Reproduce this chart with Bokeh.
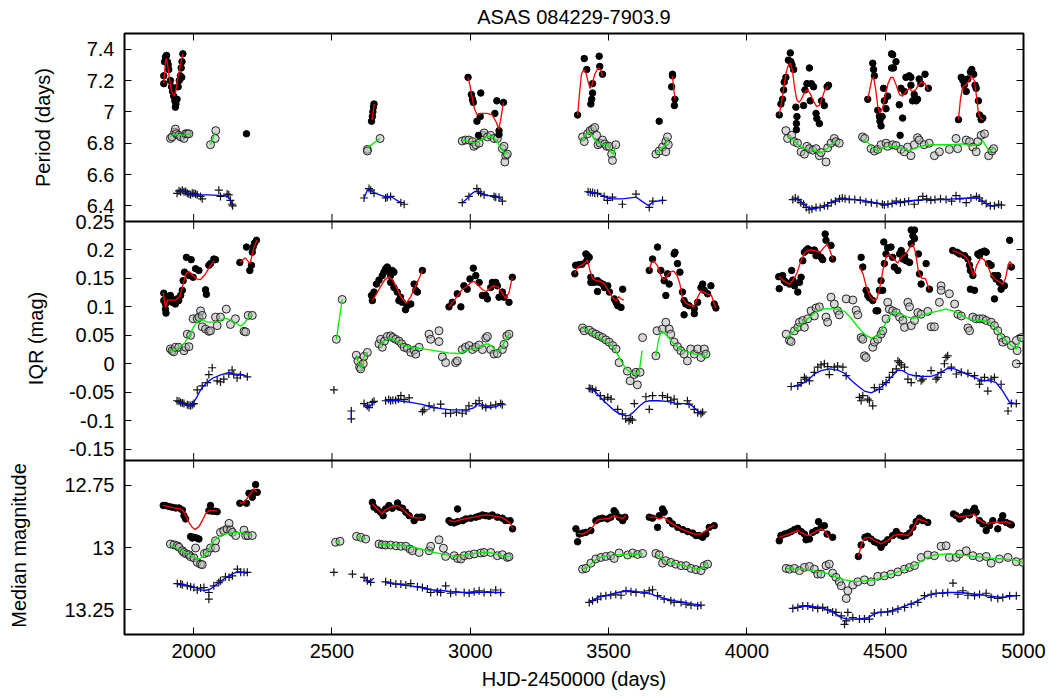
import math
from bokeh.plotting import figure
from bokeh.layouts import row
from bokeh.models import Range1d, LinearAxis, FixedTicker, Span, CustomJSTickFormatter
from bokeh.core.properties import value
from bokeh.embed import file_html
from bokeh.resources import INLINE

TITLE = "ASAS 084229-7903.9"
X_LABEL = "HJD-2450000 (days)"
X_TICKS = [2000, 2500, 3000, 3500, 4000, 4500, 5000]
X_LIMITS = (1750, 5000)

PERIOD_LABEL = "Period (days)"
PERIOD_LIMITS = (6.3, 7.5)
PERIOD_TICKS = [6.4, 6.6, 6.8, 7.0, 7.2, 7.4]
PERIOD_TICK_LABELS = ["6.4", "6.6", "6.8", "7", "7.2", "7.4"]

IQR_LABEL = "IQR (mag)"
IQR_LIMITS = (-0.17, 0.25)
IQR_TICKS = [-0.15, -0.1, -0.05, 0.0, 0.05, 0.1, 0.15, 0.2, 0.25]
IQR_TICK_LABELS = ["-0.15", "-0.1", "-0.05", "0", "0.05", "0.1", "0.15", "0.2", "0.25"]

MAG_LABEL = "Median magnitude"
MAG_LIMITS = (12.65, 13.35)
MAG_TICKS = [12.75, 13.0, 13.25]
MAG_TICK_LABELS = ["12.75", "13", "13.25"]

# ---------------- Period panel ----------------
PERIOD_RED_PTS = [
    (1892,7.18),(1892,7.23),(1895,7.32),(1898,7.35),(1902,7.36),(1905,7.32),(1908,7.30),(1910,7.27),(1916,7.20),(1920,7.16),
    (1924,7.13),(1928,7.10),(1932,7.07),(1936,7.05),(1934,7.03),(1940,7.08),(1944,7.16),(1948,7.20),(1952,7.23),(1955,7.28),
    (1957,7.22),(1958,7.32),(1961,7.37),(2191,6.86),
    (2643,6.94),(2646,6.97),(2648,7.00),(2650,7.03),(2652,7.05),
    (2992,7.22),(3004,7.11),(3008,7.08),(3011,7.06),(3024,6.94),(3036,6.97),(3038,7.12),(3089,6.99),(3096,7.07),(3104,6.88),
    (3120,7.06),(3030,6.85),(3104,6.855),
    (3388,6.98),(3412,7.34),(3421,7.27),(3442,7.18),(3442,7.12),(3439,7.08),(3436,7.05),(3466,7.355),(3468,7.29),(3478,7.24),
    (3731,7.24),(3731,7.23),(3728,7.16),(3740,7.08),(3738,7.04),(3683,6.94),
    (4117,6.98),(4123,7.05),(4129,7.08),(4133,7.14),(4135,7.19),(4141,7.22),(4150,7.33),(4157,7.376),(4159,7.32),(4163,7.30),
    (4169,7.27),(4177,7.03),(4181,6.97),(4179,6.925),(4179,6.886),(4205,7.04),(4210,7.14),(4217,7.18),(4226,7.28),(4229,7.07),
    (4233,7.18),(4241,7.16),(4250,6.99),(4253,6.957),(4262,6.925),(4270,7.07),(4280,7.04),(4290,7.16),(4295,7.17),(4554,6.85),
    (4437,7.08),(4455,7.31),(4458,7.27),(4461,7.23),(4473,7.01),(4479,6.97),(4481,6.94),(4485,6.91),(4489,6.97),(4494,7.15),
    (4497,7.07),(4503,7.02),(4509,7.10),(4523,7.37),(4527,7.365),(4523,7.28),(4530,7.28),(4539,7.32),(4551,7.045),(4563,6.96),
    (4557,7.15),(4569,7.13),(4575,7.22),(4587,7.23),(4593,7.22),(4593,7.17),(4599,7.07),(4605,7.11),(4612,7.07),(4617,7.08),
    (4623,7.21),(4629,7.18),(4644,7.24),(4656,7.15),
    (4765,6.95),(4775,7.22),(4781,7.20),(4786,7.17),(4793,7.13),(4799,7.21),(4808,7.255),(4813,7.27),(4820,7.24),(4825,7.17),
    (4829,7.15),(4837,7.07),(4841,6.98),(4847,6.95),(4853,6.96),
]
PERIOD_RED_CURVES = [
    [(1892,7.18),(1897,7.30),(1901,7.34),(1906,7.30),(1912,7.22),(1918,7.15),(1925,7.11),(1930,7.10),(1936,7.14),(1942,7.21),(1950,7.28),(1961,7.37)],
    [(2645,6.95),(2649,7.00),(2653,7.05)],
    [(2992,7.22),(3000,7.16),(3008,7.08),(3015,7.02),(3025,6.98),(3040,6.99),(3060,6.99),(3080,6.98),(3095,6.93),(3103,6.89),(3110,6.95),(3120,7.06)],
    [(3388,6.98),(3395,7.12),(3402,7.24),(3410,7.27),(3418,7.25),(3425,7.20),(3433,7.15),(3440,7.17),(3450,7.24),(3462,7.28),(3470,7.27),(3478,7.23)],
    [(3731,7.23),(3735,7.16),(3740,7.08)],
    [(4117,6.98),(4125,7.06),(4133,7.15),(4142,7.25),(4150,7.30),(4158,7.31),(4165,7.26),(4172,7.16),(4180,7.08),(4188,7.06),(4197,7.08),
     (4207,7.12),(4218,7.14),(4228,7.12),(4240,7.07),(4252,7.035),(4262,7.04),(4272,7.09),(4282,7.14),(4292,7.16)],
    [(4437,7.08),(4445,7.15),(4452,7.21),(4458,7.22),(4465,7.15),(4473,7.04),(4480,6.99),(4490,7.02),(4500,7.10),(4510,7.18),(4520,7.22),
     (4528,7.22),(4540,7.17),(4552,7.11),(4563,7.10),(4575,7.13),(4587,7.15),(4598,7.13),(4610,7.14),(4620,7.17),(4632,7.19),(4644,7.18),(4656,7.14)],
    [(4765,6.95),(4772,7.08),(4780,7.16),(4790,7.17),(4800,7.19),(4812,7.23),(4822,7.20),(4830,7.10),(4837,6.99),(4845,6.96),(4855,6.95)],
]
PERIOD_GREEN_PTS = [
    (1916,6.83),(1922,6.84),(1931,6.87),(1934,6.89),(1938,6.86),(1946,6.85),(1953,6.84),(1965,6.83),(1971,6.86),(1977,6.86),(1983,6.86),
    (2061,6.79),(2078,6.83),(2080,6.88),
    (2628,6.76),(2628,6.75),(2674,6.83),
    (2971,6.814),(2983,6.82),(2995,6.82),(3008,6.81),(3013,6.78),(3020,6.79),(3032,6.80),(3044,6.85),(3050,6.865),(3062,6.84),
    (3074,6.85),(3086,6.83),(3098,6.83),(3116,6.765),(3122,6.78),(3128,6.72),(3134,6.73),(3125,6.68),
    (3406,6.84),(3412,6.81),(3424,6.86),(3433,6.88),(3442,6.89),(3450,6.90),(3457,6.85),(3462,6.79),(3469,6.80),(3478,6.82),
    (3486,6.795),(3493,6.78),(3502,6.78),(3511,6.73),(3514,6.69),(3526,6.79),
    (3671,6.73),(3683,6.75),(3695,6.775),(3707,6.81),(3713,6.84),(3707,6.745),(3716,6.79),
    (4141,6.88),(4147,6.83),(4162,6.85),(4171,6.81),(4183,6.80),(4196,6.745),(4208,6.73),(4217,6.78),(4226,6.765),(4238,6.755),
    (4250,6.765),(4262,6.72),(4268,6.74),(4286,6.68),(4292,6.77),(4304,6.80),(4316,6.83),(4322,6.81),(4334,6.80),
    (4418,6.84),(4426,6.83),(4449,6.765),(4461,6.75),(4473,6.76),(4485,6.79),(4503,6.80),(4509,6.78),(4527,6.79),(4539,6.785),
    (4557,6.76),(4569,6.745),(4581,6.775),(4593,6.72),(4605,6.79),(4617,6.835),(4623,6.82),(4641,6.79),(4659,6.80),(4678,6.72),
    (4696,6.745),(4732,6.76),(4756,6.83),(4762,6.765),(4793,6.82),(4805,6.81),(4817,6.775),(4829,6.745),(4835,6.81),(4847,6.85),
    (4859,6.86),(4874,6.72),(4886,6.75),(4892,6.765),
]
PERIOD_GREEN_CURVES = [
    [(1916,6.84),(1925,6.855),(1940,6.855),(1955,6.85),(1970,6.855),(1983,6.86)],
    [(2061,6.79),(2078,6.87)],
    [(2628,6.77),(2673,6.83)],
    [(2971,6.82),(2985,6.815),(3000,6.81),(3015,6.80),(3030,6.81),(3050,6.835),(3070,6.845),(3085,6.835),(3100,6.80),(3115,6.76),(3125,6.73),(3135,6.745)],
    [(3400,6.81),(3410,6.84),(3420,6.86),(3430,6.87),(3440,6.85),(3450,6.82),(3460,6.80),(3470,6.80),(3480,6.79),(3490,6.795),(3500,6.78),
     (3510,6.74),(3518,6.73),(3526,6.79)],
    [(3671,6.735),(3690,6.76),(3705,6.79),(3715,6.83)],
    [(4145,6.84),(4160,6.83),(4180,6.80),(4200,6.77),(4220,6.76),(4240,6.755),(4260,6.74),(4275,6.745),(4290,6.765),(4310,6.80),(4325,6.81)],
    [(4418,6.82),(4435,6.81),(4455,6.77),(4473,6.75),(4490,6.77),(4510,6.78),(4540,6.78),(4565,6.765),(4587,6.75),(4610,6.77),(4640,6.785),
     (4680,6.79),(4730,6.79),(4780,6.795),(4810,6.785),(4835,6.79),(4853,6.815),(4865,6.78),(4877,6.745),(4892,6.77)],
]
PERIOD_BLUE_PTS = [
    (1940,6.48),(1947,6.495),(1953,6.49),(1959,6.50),(1965,6.49),(1971,6.492),(1977,6.48),(1983,6.475),(1989,6.47),(1995,6.48),
    (2001,6.48),(2007,6.475),(2013,6.47),(2025,6.46),(2031,6.445),(2091,6.50),(2097,6.46),(2121,6.475),(2127,6.47),(2133,6.435),
    (2139,6.41),(2141,6.40),
    (2616,6.45),(2634,6.51),(2640,6.50),(2652,6.48),(2694,6.45),(2700,6.455),(2712,6.46),(2749,6.42),(2761,6.41),
    (2971,6.42),(2995,6.46),(3024,6.51),(3030,6.49),(3038,6.48),(3050,6.47),(3086,6.46),(3092,6.455),(3104,6.455),(3116,6.43),
    (3426,6.49),(3434,6.485),(3442,6.485),(3450,6.48),(3460,6.48),(3484,6.46),(3496,6.435),(3514,6.455),(3550,6.41),(3599,6.475),
    (3647,6.39),(3660,6.43),(3695,6.435),
    (4166,6.44),(4175,6.45),(4185,6.44),(4195,6.42),(4205,6.41),(4215,6.39),(4225,6.375),(4235,6.38),(4250,6.39),(4265,6.39),
    (4280,6.40),(4292,6.40),(4305,6.42),(4320,6.43),(4335,6.445),(4345,6.45),(4355,6.445),(4370,6.44),(4390,6.44),(4410,6.435),
    (4430,6.425),(4450,6.42),(4470,6.415),(4490,6.41),(4497,6.405),(4510,6.41),(4525,6.415),(4540,6.43),(4555,6.42),(4570,6.425),
    (4585,6.43),(4605,6.41),(4620,6.435),(4636,6.46),(4650,6.445),(4665,6.435),(4680,6.44),(4700,6.445),(4720,6.44),(4740,6.43),
    (4756,6.465),(4770,6.445),(4793,6.42),(4810,6.45),(4830,6.46),(4840,6.45),(4850,6.43),(4865,6.415),(4880,6.40),(4895,6.40),
    (4910,6.41),(4920,6.405),
]
PERIOD_BLUE_CURVES = [
    [(1940,6.49),(1955,6.495),(1970,6.49),(1985,6.475),(2000,6.47),(2050,6.47),(2110,6.465),(2125,6.455),(2135,6.43),(2141,6.41)],
    [(2616,6.45),(2628,6.50),(2636,6.505),(2650,6.485),(2680,6.465),(2700,6.455),(2712,6.46),(2730,6.44),(2750,6.42)],
    [(2971,6.42),(2985,6.44),(3000,6.47),(3015,6.49),(3025,6.495),(3040,6.48),(3060,6.465),(3090,6.465),(3105,6.45),(3116,6.435)],
    [(3420,6.49),(3445,6.485),(3465,6.475),(3480,6.465),(3495,6.45),(3510,6.445),(3550,6.445),(3600,6.455),(3620,6.43),(3645,6.40),(3660,6.425),(3695,6.435)],
    [(4166,6.44),(4180,6.445),(4200,6.42),(4220,6.39),(4240,6.38),(4270,6.39),(4300,6.42),(4330,6.44),(4360,6.445),(4400,6.44),(4450,6.425),
     (4500,6.41),(4550,6.425),(4600,6.435),(4650,6.44),(4700,6.44),(4750,6.445),(4800,6.45),(4835,6.45),(4860,6.42),(4880,6.40),(4910,6.405)],
]

# ---------------- IQR panel ----------------
IQR_RED_PTS = [
    (1892,0.124),(1892,0.111),(1898,0.105),(1898,0.096),(1900,0.089),(1904,0.118),(1910,0.114),(1916,0.120),(1922,0.108),(1926,0.111),
    (1934,0.105),(1940,0.114),(1946,0.111),(1953,0.120),(1959,0.129),(1962,0.146),(1967,0.161),(1974,0.187),(1983,0.155),(1991,0.183),
    (1998,0.152),(2007,0.167),(2019,0.164),(2043,0.130),(2046,0.122),(2055,0.173),(2061,0.176),(2073,0.184),(2079,0.183),
    (2167,0.178),(2191,0.205),(2203,0.164),(2209,0.173),(2212,0.196),(2215,0.205),(2220,0.212),(2227,0.217),
    (2643,0.12),(2646,0.111),(2652,0.126),(2661,0.140),(2670,0.147),(2682,0.155),(2688,0.161),(2694,0.167),(2700,0.170),(2706,0.164),
    (2712,0.155),(2718,0.164),(2724,0.161),(2712,0.143),(2724,0.134),(2736,0.126),(2742,0.111),(2748,0.117),(2754,0.108),(2766,0.095),
    (2772,0.102),(2785,0.105),(2797,0.140),(2803,0.129),(2809,0.126),(2827,0.164),
    (2923,0.10),(2935,0.108),(2953,0.123),(2966,0.10),(2977,0.137),(2989,0.131),(2999,0.149),(3011,0.168),(3020,0.155),(3032,0.143),
    (3044,0.120),(3056,0.120),(3062,0.114),(3074,0.134),(3080,0.143),(3092,0.143),(3098,0.137),(3104,0.117),(3116,0.126),(3122,0.117),
    (3140,0.108),(3152,0.152),
    (3378,0.158),(3381,0.173),(3392,0.174),(3404,0.175),(3418,0.193),(3424,0.190),(3421,0.181),(3430,0.187),(3436,0.152),(3436,0.143),
    (3448,0.143),(3460,0.146),(3467,0.143),(3479,0.140),(3485,0.134),(3497,0.137),(3503,0.126),(3521,0.114),(3527,0.108),(3533,0.102),
    (3545,0.099),(3551,0.131),(3460,0.127),
    (3647,0.164),(3659,0.184),(3677,0.205),(3689,0.164),(3701,0.146),(3707,0.120),(3713,0.158),(3719,0.140),(3737,0.193),(3740,0.196),
    (3749,0.176),(3758,0.161),(3767,0.126),(3773,0.111),(3773,0.086),(3779,0.105),(3791,0.102),(3810,0.088),(3810,0.097),(3822,0.108),
    (3834,0.134),(3840,0.140),(3846,0.129),(3858,0.123),(3870,0.137),(3882,0.105),(3888,0.098),
    (4117,0.132),(4115,0.153),(4129,0.155),(4135,0.146),(4141,0.143),(4154,0.140),(4162,0.164),(4166,0.147),(4172,0.137),(4184,0.126),
    (4190,0.143),(4196,0.152),(4202,0.181),(4208,0.196),(4214,0.199),(4220,0.202),(4232,0.199),(4244,0.200),(4250,0.190),(4256,0.193),
    (4268,0.187),(4274,0.183),(4283,0.228),(4286,0.217),(4304,0.208),(4310,0.184),
    (4413,0.187),(4419,0.170),(4431,0.129),(4437,0.120),(4443,0.116),(4455,0.111),(4467,0.093),(4473,0.093),(4479,0.129),(4485,0.146),
    (4491,0.129),(4495,0.214),(4497,0.176),(4503,0.193),(4509,0.204),(4521,0.205),(4527,0.187),(4533,0.170),(4546,0.164),(4552,0.193),
    (4558,0.199),(4564,0.184),(4570,0.190),(4576,0.181),(4588,0.178),(4594,0.235),(4606,0.235),(4600,0.225),(4594,0.211),(4606,0.220),
    (4620,0.193),(4624,0.158),(4630,0.140),(4648,0.176),(4660,0.131),
    (4744,0.199),(4760,0.196),(4769,0.193),(4787,0.190),(4799,0.184),(4805,0.173),(4808,0.164),(4817,0.155),(4808,0.131),(4823,0.129),
    (4835,0.193),(4841,0.190),(4847,0.196),(4859,0.198),(4865,0.196),(4874,0.176),(4883,0.173),(4893,0.155),(4895,0.114),(4901,0.149),
    (4907,0.155),(4913,0.143),(4919,0.131),(4931,0.137),(4950,0.217),(4956,0.170),
]
IQR_RED_CURVES = [
    [(1890,0.125),(1898,0.099),(1906,0.112),(1920,0.112),(1935,0.112),(1950,0.118),(1962,0.140),(1972,0.158),(1983,0.162),(1995,0.156),
     (2010,0.149),(2025,0.148),(2040,0.156),(2055,0.168),(2073,0.181)],
    [(2167,0.178),(2186,0.186),(2204,0.176),(2217,0.203),(2229,0.218)],
    [(2646,0.111),(2660,0.122),(2675,0.135),(2690,0.147),(2706,0.153),(2720,0.147),(2735,0.132),(2750,0.117),(2768,0.106),(2785,0.118),
     (2800,0.135),(2815,0.150),(2827,0.164)],
    [(2923,0.10),(2940,0.11),(2955,0.12),(2970,0.13),(2985,0.135),(3000,0.142),(3014,0.145),(3030,0.137),(3045,0.130),(3058,0.127),
     (3070,0.132),(3085,0.137),(3100,0.135),(3115,0.125),(3128,0.115),(3140,0.125),(3152,0.152)],
    [(3378,0.158),(3385,0.168),(3400,0.173),(3412,0.176),(3424,0.182),(3432,0.165),(3442,0.150),(3455,0.146),(3470,0.145),(3485,0.140),
     (3500,0.128),(3515,0.116),(3527,0.110),(3537,0.118),(3545,0.114),(3555,0.112)],
    [(3647,0.164),(3655,0.178),(3665,0.180),(3677,0.172),(3689,0.155),(3700,0.147),(3712,0.155),(3722,0.161),(3735,0.163),(3748,0.155),
     (3758,0.140),(3767,0.115),(3780,0.106),(3795,0.103),(3808,0.100),(3820,0.115),(3834,0.128),(3848,0.125),(3860,0.122),(3872,0.120),
     (3880,0.108),(3888,0.098)],
    [(4117,0.153),(4130,0.147),(4145,0.142),(4155,0.140),(4165,0.146),(4180,0.158),(4195,0.180),(4210,0.196),(4225,0.200),(4245,0.199),
     (4265,0.196),(4280,0.205),(4290,0.210),(4300,0.200),(4310,0.184)],
    [(4407,0.170),(4420,0.158),(4432,0.135),(4445,0.118),(4458,0.111),(4470,0.114),(4480,0.132),(4492,0.165),(4505,0.190),(4515,0.192),
     (4530,0.185),(4545,0.177),(4560,0.188),(4575,0.193),(4590,0.205),(4600,0.210),(4610,0.195),(4620,0.162),(4632,0.150),(4645,0.150),
     (4659,0.131)],
    [(4744,0.199),(4760,0.196),(4775,0.193),(4790,0.188),(4800,0.182),(4810,0.168),(4820,0.154),(4830,0.172),(4845,0.186),(4858,0.183),
     (4870,0.172),(4882,0.158),(4895,0.149),(4910,0.145),(4925,0.140),(4935,0.150),(4945,0.175),(4952,0.180),(4958,0.170)],
]
IQR_GREEN_PTS = [
    (1916,0.026),(1922,0.023),(1928,0.021),(1934,0.029),(1946,0.029),(1965,0.023),(1971,0.029),(1983,0.030),(1977,0.052),(1989,0.050),
    (1998,0.079),(2013,0.079),(2019,0.082),(2025,0.093),(2031,0.085),(2031,0.065),(2043,0.061),(2055,0.057),(2061,0.058),(2079,0.082),
    (2085,0.067),(2097,0.082),(2118,0.096),(2133,0.069),(2151,0.079),(2182,0.057),(2188,0.056),(2197,0.085),(2212,0.085),
    (2516,0.043),(2537,0.113),
    (2588,0.015),(2594,0.005),(2600,-0.006),(2604,-0.009),(2613,0.0),(2616,0.013),(2628,0.020),
    (2670,0.035),(2676,0.043),(2682,0.029),(2690,0.040),(2700,0.048),(2712,0.049),(2720,0.046),(2730,0.043),(2742,0.040),(2752,0.035),
    (2761,0.029),(2773,0.027),(2785,0.020),(2797,0.024),(2803,0.017),(2815,0.029),(2851,0.052),(2857,0.043),(2887,0.058),(2887,0.039),
    (2899,0.012),(2911,0.002),(2947,0.002),(2953,0.005),(2971,0.025),(2983,0.029),(2996,0.032),(3008,0.025),(3020,0.029),(3032,0.033),
    (3044,0.025),(3056,0.045),(3062,0.048),(3074,0.025),(3086,0.017),(3098,0.018),(3116,0.025),(3122,0.034),(3132,0.049),(3140,0.052),
    (3406,0.063),(3412,0.058),(3430,0.059),(3442,0.055),(3454,0.052),(3466,0.049),(3478,0.046),(3490,0.042),(3502,0.038),(3515,0.032),
    (3527,0.026),(3538,0.002),(3568,-0.013),(3578,-0.030),(3593,-0.019),(3599,-0.015),(3604,-0.037),(3614,-0.015),(3623,0.046),
    (3671,0.014),(3675,0.058),(3695,0.061),(3707,0.073),(3719,0.061),(3725,0.052),(3737,0.038),(3749,0.030),(3761,0.023),(3773,0.017),
    (3785,0.005),(3797,0.026),(3810,0.017),(3822,0.026),(3834,0.011),(3846,0.026),(3852,0.017),
    (4142,0.052),(4154,0.041),(4160,0.039),(4172,0.058),(4184,0.064),(4190,0.073),(4202,0.076),(4208,0.064),(4220,0.079),(4232,0.093),
    (4244,0.084),(4250,0.098),(4262,0.100),(4286,0.082),(4292,0.073),(4304,0.117),(4316,0.105),(4328,0.093),(4334,0.086),(4359,0.114),
    (4383,0.112),(4395,0.094),(4401,0.086),(4413,0.046),(4419,0.043),(4425,0.014),(4431,0.011),(4455,0.029),(4461,0.038),(4473,0.043),
    (4485,0.052),(4491,0.058),(4503,0.079),(4509,0.108),(4515,0.096),(4527,0.093),(4540,0.090),(4552,0.082),(4564,0.076),(4570,0.064),
    (4582,0.108),(4588,0.100),(4594,0.067),(4606,0.076),(4618,0.090),(4630,0.087),(4654,0.092),(4666,0.065),(4678,0.065),(4696,0.108),
    (4702,0.137),(4702,0.129),(4732,0.123),(4751,0.105),(4763,0.087),(4775,0.084),(4799,0.063),(4805,0.058),(4817,0.082),(4829,0.079),
    (4841,0.079),(4853,0.079),(4865,0.076),(4883,0.073),(4895,0.067),(4907,0.058),(4919,0.046),(4925,0.038),(4937,0.041),(4956,0.032),
    (4974,0.041),(4977,0.023),(4974,0.0),(4992,0.046),
]
IQR_GREEN_CURVES = [
    [(1913,0.026),(1925,0.022),(1945,0.028),(1965,0.035),(1985,0.050),(2000,0.065),(2015,0.076),(2030,0.077),(2050,0.073),(2070,0.073),
     (2090,0.074),(2110,0.080),(2130,0.078),(2150,0.072),(2170,0.066),(2185,0.072),(2200,0.083),(2212,0.085)],
    [(2516,0.043),(2537,0.113)],
    [(2588,0.015),(2595,0.002),(2605,-0.008),(2612,-0.005),(2616,0.013),(2628,0.020)],
    [(2670,0.032),(2685,0.038),(2700,0.043),(2715,0.044),(2735,0.040),(2760,0.032),(2790,0.029),(2830,0.026),(2870,0.023),(2920,0.019),
     (2955,0.018),(2985,0.023),(3020,0.027),(3050,0.034),(3065,0.035),(3080,0.030),(3095,0.022),(3110,0.025),(3125,0.040),(3140,0.052)],
    [(3406,0.063),(3420,0.060),(3440,0.054),(3460,0.049),(3478,0.043),(3500,0.036),(3520,0.027),(3540,0.010),(3555,-0.003),(3570,-0.012),
     (3585,-0.016),(3600,-0.018),(3612,-0.010),(3620,0.020),(3623,0.023)],
    [(3671,0.014),(3680,0.040),(3690,0.058),(3700,0.055),(3718,0.045),(3740,0.033),(3760,0.026),(3785,0.021),(3810,0.017),(3835,0.015),
     (3850,0.011),(3858,0.020)],
    [(4145,0.046),(4160,0.052),(4178,0.061),(4196,0.070),(4220,0.079),(4244,0.089),(4268,0.095),(4292,0.097),(4328,0.096),(4353,0.092),
     (4377,0.080),(4401,0.065),(4425,0.052),(4449,0.045),(4473,0.049),(4497,0.067),(4521,0.087),(4533,0.092),(4558,0.087),(4582,0.082),
     (4606,0.080),(4630,0.085),(4666,0.090),(4720,0.096),(4751,0.092),(4787,0.082),(4811,0.077),(4847,0.076),(4871,0.074),(4895,0.065),
     (4925,0.046),(4956,0.032),(4974,0.026),(4992,0.046)],
]
IQR_BLUE_PTS = [
    (1940,-0.065),(1947,-0.066),(1953,-0.068),(1959,-0.069),(1965,-0.070),(1977,-0.072),(1983,-0.073),(1989,-0.074),(1995,-0.072),
    (2001,-0.070),(2013,-0.046),(2031,-0.039),(2049,-0.033),(2055,-0.019),(2067,-0.007),(2085,-0.030),(2097,-0.032),(2109,-0.027),
    (2127,-0.018),(2139,-0.011),(2145,-0.018),(2157,-0.025),(2169,-0.020),(2194,-0.023),
    (2507,-0.046),(2570,-0.083),(2570,-0.097),
    (2616,-0.070),(2628,-0.074),(2634,-0.077),(2646,-0.068),(2652,-0.066),
    (2694,-0.065),(2705,-0.063),(2712,-0.065),(2720,-0.064),(2730,-0.064),(2740,-0.062),(2749,-0.056),(2761,-0.063),(2779,-0.060),
    (2827,-0.084),(2833,-0.081),(2851,-0.074),(2869,-0.077),(2893,-0.071),(2911,-0.087),(2929,-0.087),(2950,-0.085),(2971,-0.087),
    (2985,-0.083),(2995,-0.074),(3020,-0.070),(3032,-0.065),(3044,-0.074),(3056,-0.077),(3074,-0.074),(3092,-0.072),(3110,-0.070),
    (3116,-0.072),
    (3430,-0.043),(3436,-0.044),(3442,-0.045),(3454,-0.047),(3470,-0.056),(3485,-0.062),(3497,-0.059),(3509,-0.062),(3533,-0.080),
    (3550,-0.088),(3562,-0.097),(3574,-0.100),(3580,-0.097),(3586,-0.099),(3593,-0.070),(3635,-0.058),(3647,-0.080),(3659,-0.056),
    (3695,-0.056),(3713,-0.059),(3725,-0.065),(3737,-0.062),(3749,-0.071),(3785,-0.065),(3791,-0.071),(3810,-0.080),(3822,-0.086),
    (3834,-0.088),(3840,-0.085),
    (4160,-0.040),(4184,-0.039),(4196,-0.033),(4208,-0.024),(4214,-0.027),(4226,-0.030),(4244,-0.015),(4256,-0.006),(4268,-0.002),
    (4280,0.0),(4292,-0.005),(4298,-0.019),(4316,-0.006),(4328,-0.004),(4347,-0.006),(4359,-0.021),(4407,-0.059),(4413,-0.065),
    (4419,-0.056),(4437,-0.062),(4443,-0.065),(4455,-0.074),(4461,-0.042),(4479,-0.045),(4491,-0.036),(4503,-0.033),(4515,-0.024),
    (4527,-0.015),(4540,-0.009),(4546,0.005),(4552,0.002),(4558,-0.002),(4570,-0.006),(4582,-0.027),(4594,-0.033),(4612,-0.021),
    (4630,-0.030),(4636,-0.027),(4666,-0.012),(4684,-0.027),(4690,-0.024),(4702,-0.015),(4714,0.0),(4720,0.011),(4726,0.014),
    (4739,-0.006),(4757,-0.018),(4775,-0.015),(4799,-0.017),(4823,-0.021),(4841,-0.036),(4847,-0.030),(4859,-0.024),(4871,-0.048),
    (4883,-0.027),(4895,-0.024),(4919,-0.036),(4944,-0.083),(4956,-0.070),(4974,-0.070),
]
IQR_BLUE_CURVES = [
    [(1940,-0.066),(1960,-0.069),(1980,-0.073),(1995,-0.072),(2010,-0.060),(2025,-0.046),(2045,-0.034),(2070,-0.025),(2100,-0.019),
     (2130,-0.015),(2150,-0.020),(2170,-0.018),(2194,-0.022)],
    [(2570,-0.083),(2570,-0.097)],
    [(2616,-0.070),(2628,-0.076),(2640,-0.073),(2652,-0.066)],
    [(2694,-0.065),(2740,-0.065),(2785,-0.068),(2830,-0.072),(2869,-0.077),(2929,-0.081),(2989,-0.081),(3010,-0.078),(3032,-0.069),
     (3050,-0.073),(3074,-0.077),(3095,-0.075),(3116,-0.071)],
    [(3430,-0.043),(3445,-0.047),(3460,-0.053),(3480,-0.064),(3500,-0.073),(3520,-0.082),(3540,-0.088),(3560,-0.091),(3574,-0.091),
     (3590,-0.085),(3610,-0.075),(3630,-0.067),(3650,-0.065),(3680,-0.065),(3710,-0.066),(3740,-0.069),(3770,-0.070),(3790,-0.070),
     (3805,-0.075),(3820,-0.082),(3834,-0.086)],
    [(4166,-0.040),(4196,-0.036),(4220,-0.029),(4244,-0.018),(4268,-0.012),(4298,-0.009),(4328,-0.011),(4353,-0.017),(4377,-0.029),
     (4401,-0.039),(4425,-0.048),(4449,-0.051),(4473,-0.046),(4497,-0.036),(4521,-0.024),(4546,-0.011),(4564,-0.012),(4582,-0.018),
     (4606,-0.021),(4630,-0.022),(4666,-0.022),(4690,-0.018),(4726,-0.008),(4751,-0.009),(4787,-0.017),(4823,-0.024),(4847,-0.029),
     (4883,-0.030),(4901,-0.033),(4925,-0.048),(4950,-0.068),(4974,-0.070)],
]

# ---------------- Median magnitude panel ----------------
MAG_RED_PTS = [
    (1890,12.831),(1898,12.831),(1910,12.835),(1922,12.838),(1935,12.841),(1947,12.841),(1959,12.849),(1965,12.872),(1971,12.885),
    (1989,12.956),(1995,12.962),(2001,12.959),(2011,12.962),(2019,12.966),(2055,12.852),(2061,12.831),(2067,12.854),(2079,12.854),
    (2085,12.856),
    (2167,12.822),(2191,12.822),(2200,12.782),(2212,12.798),(2218,12.778),(2224,12.747),(2230,12.778),
    (2646,12.818),(2652,12.838),(2664,12.848),(2676,12.858),(2685,12.872),(2694,12.845),(2706,12.831),(2718,12.842),(2737,12.821),
    (2743,12.838),(2755,12.842),(2767,12.858),(2779,12.872),(2797,12.892),(2809,12.878),(2821,12.878),(2827,12.878),
    (2923,12.892),(2930,12.899),(2942,12.901),(2954,12.896),(2972,12.892),(2984,12.885),(3002,12.882),(3020,12.878),(3032,12.874),
    (3044,12.869),(3056,12.872),(3068,12.874),(3080,12.869),(3098,12.878),(3116,12.882),(3128,12.892),(3144,12.892),(3153,12.925),
    (2954,12.845),
    (3382,12.925),(3388,12.977),(3394,12.946),(3406,12.942),(3418,12.939),(3436,12.932),(3454,12.892),(3466,12.885),(3478,12.882),
    (3496,12.885),(3508,12.878),(3520,12.852),(3526,12.861),(3538,12.878),(3551,12.892),(3559,12.878),
    (3647,12.878),(3659,12.882),(3677,12.919),(3683,12.872),(3695,12.845),(3701,12.858),(3719,12.892),(3731,12.905),(3750,12.919),
    (3768,12.928),(3786,12.936),(3804,12.942),(3816,12.952),(3828,12.952),(3840,12.959),(3852,12.946),(3864,12.919),(3882,12.912),
    (4117,12.973),(4123,12.952),(4136,12.946),(4148,12.942),(4160,12.936),(4172,12.928),(4184,12.923),(4196,12.936),(4208,12.946),
    (4214,12.969),(4226,12.966),(4238,12.939),(4250,12.932),(4259,12.896),(4268,12.919),(4280,12.912),(4290,12.946),(4310,12.959),
    (4403,13.036),(4413,12.990),(4427,12.959),(4437,12.955),(4449,12.966),(4461,12.977),(4473,12.982),(4485,12.999),(4497,12.982),
    (4509,12.969),(4527,12.952),(4540,12.936),(4552,12.950),(4564,12.955),(4576,12.952),(4588,12.942),(4600,12.919),(4612,12.896),
    (4624,12.882),(4636,12.892),(4654,12.899),
    (4747,12.865),(4757,12.872),(4769,12.885),(4781,12.874),(4793,12.858),(4805,12.869),(4817,12.852),(4823,12.842),(4829,12.858),
    (4841,12.892),(4853,12.905),(4865,12.932),(4877,12.912),(4889,12.892),(4907,12.925),(4919,12.892),(4925,12.872),(4937,12.899),
    (4950,12.905),(4956,12.909),
]
MAG_RED_CURVES = [
    [(1890,12.831),(1904,12.835),(1929,12.841),(1953,12.845),(1962,12.852),(1971,12.872),(1983,12.899),(1995,12.919),(2005,12.928),
     (2019,12.916),(2031,12.892),(2043,12.865),(2055,12.852),(2073,12.852),(2085,12.854)],
    [(2167,12.822),(2182,12.818),(2196,12.798),(2218,12.764),(2230,12.778)],
    [(2646,12.825),(2664,12.845),(2682,12.865),(2694,12.848),(2712,12.838),(2737,12.831),(2755,12.845),(2773,12.865),(2791,12.878),
     (2809,12.882),(2827,12.880)],
    [(2923,12.892),(2942,12.896),(2966,12.888),(2990,12.883),(3014,12.878),(3038,12.872),(3062,12.869),(3086,12.874),(3110,12.878),
     (3129,12.888),(3147,12.905),(3153,12.925)],
    [(3388,12.942),(3406,12.946),(3424,12.936),(3442,12.919),(3460,12.889),(3484,12.885),(3502,12.883),(3520,12.872),(3532,12.878),
     (3551,12.883),(3563,12.872)],
    [(3647,12.878),(3665,12.878),(3683,12.885),(3701,12.878),(3719,12.896),(3737,12.909),(3762,12.925),(3786,12.936),(3810,12.946),
     (3834,12.946),(3852,12.932),(3864,12.919),(3882,12.912)],
    [(4117,12.959),(4136,12.952),(4160,12.942),(4184,12.932),(4208,12.946),(4220,12.952),(4244,12.939),(4268,12.925),(4280,12.932),
     (4298,12.959)],
    [(4403,13.036),(4413,12.993),(4425,12.963),(4443,12.959),(4461,12.972),(4485,12.986),(4509,12.972),(4533,12.950),(4558,12.946),
     (4582,12.952),(4600,12.925),(4618,12.885),(4636,12.892),(4654,12.899)],
    [(4751,12.869),(4769,12.878),(4787,12.874),(4805,12.872),(4823,12.865),(4835,12.885),(4853,12.899),(4871,12.905),(4895,12.899),
     (4919,12.899),(4937,12.896),(4956,12.905)],
]
MAG_GREEN_PTS = [
    (1916,12.986),(1929,12.989),(1941,12.993),(1947,12.999),(1959,13.013),(1965,13.020),(1974,13.026),(1983,13.029),(1989,13.037),
    (2001,13.042),(2013,13.060),(2025,13.067),(2031,13.069),(2007,13.002),(2039,13.024),(2049,13.020),(2061,13.002),(2079,13.002),
    (2079,12.973),(2097,12.939),(2109,12.932),(2121,12.926),(2128,12.903),(2134,12.930),(2140,12.939),(2152,12.952),(2182,12.930),
    (2188,12.952),(2196,12.952),(2212,12.952),
    (2513,12.979),(2529,12.975),
    (2589,12.955),(2604,12.959),(2622,12.966),
    (2670,12.986),(2682,12.989),(2694,12.990),(2712,12.990),(2731,12.993),(2749,12.995),(2767,12.995),(2782,13.006),(2791,13.013),
    (2815,13.020),(2851,13.013),(2857,12.995),(2887,12.969),(2903,13.003),(2911,13.036),(2942,13.033),(2954,13.044),(2966,13.046),
    (2978,13.033),(2996,13.030),(3014,13.026),(3038,13.022),(3050,13.020),(3074,13.020),(3098,13.033),(3116,13.029),(3134,13.040),
    (3140,13.037),
    (3406,13.087),(3418,13.084),(3436,13.063),(3454,13.046),(3472,13.040),(3490,13.036),(3508,13.033),(3520,13.044),(3538,13.022),
    (3569,13.030),(3587,13.022),(3605,13.028),(3623,13.024),
    (3671,13.024),(3683,13.030),(3695,13.063),(3707,13.053),(3725,13.060),(3743,13.067),(3762,13.073),(3780,13.073),(3798,13.084),
    (3816,13.089),(3834,13.093),(3846,13.073),(3858,13.067),
    (4142,13.084),(4154,13.087),(4172,13.084),(4190,13.093),(4208,13.080),(4226,13.076),(4244,13.087),(4256,13.107),(4268,13.107),
    (4286,13.073),(4298,13.067),(4310,13.103),(4322,13.120),(4334,13.138),(4341,13.154),(4359,13.205),(4365,13.174),(4383,13.151),
    (4401,13.138),(4425,13.130),(4449,13.138),(4473,13.116),(4497,13.114),(4521,13.107),(4546,13.098),(4570,13.087),(4588,13.080),
    (4606,13.073),(4630,13.040),(4654,13.030),(4678,13.033),(4702,12.995),(4720,12.993),(4732,13.040),(4757,13.040),(4769,13.026),
    (4793,13.013),(4817,13.033),(4841,13.040),(4865,13.036),(4883,13.063),(4913,13.046),(4944,13.040),(4974,13.057),(4998,13.060),
]
MAG_GREEN_CURVES = [
    [(1914,12.989),(1929,12.997),(1953,13.010),(1977,13.024),(2001,13.040),(2019,13.046),(2037,13.033),(2055,13.006),(2073,12.973),
     (2097,12.952),(2121,12.943),(2146,12.939),(2170,12.939),(2194,12.946),(2212,12.952)],
    [(2513,12.979),(2529,12.975)],
    [(2589,12.955),(2604,12.959),(2622,12.966)],
    [(2670,12.986),(2700,12.989),(2737,12.990),(2773,12.993),(2797,12.999),(2869,13.020),(2942,13.036),(2966,13.033),(2990,13.028),
     (3026,13.022),(3062,13.020),(3086,13.024),(3110,13.033),(3140,13.037)],
    [(3406,13.087),(3424,13.080),(3442,13.060),(3460,13.044),(3484,13.036),(3508,13.033),(3532,13.030),(3557,13.028),(3581,13.026),
     (3605,13.028),(3623,13.025)],
    [(3671,13.026),(3689,13.040),(3707,13.057),(3725,13.060),(3750,13.067),(3774,13.073),(3798,13.080),(3822,13.089),(3840,13.080),
     (3852,13.067),(3860,13.067)],
    [(4142,13.084),(4172,13.087),(4208,13.087),(4244,13.094),(4280,13.100),(4316,13.116),(4353,13.130),(4389,13.137),(4425,13.134),
     (4461,13.130),(4497,13.116),(4533,13.103),(4570,13.089),(4606,13.073),(4642,13.046),(4678,13.030),(4726,13.026),(4775,13.030),
     (4823,13.037),(4871,13.042),(4919,13.046),(4968,13.050),(4998,13.060)],
]
MAG_BLUE_PTS = [
    (1941,13.145),(1953,13.147),(1959,13.150),(1977,13.154),(1989,13.158),(2001,13.161),(2013,13.171),(2025,13.163),(2037,13.161),
    (2055,13.181),(2055,13.208),(2073,13.154),(2091,13.141),(2097,13.134),(2115,13.118),(2128,13.120),(2140,13.114),(2158,13.087),
    (2170,13.100),(2182,13.100),(2194,13.100),
    (2507,13.100),(2574,13.107),(2616,13.120),(2628,13.134),(2640,13.140),
    (2694,13.138),(2712,13.143),(2731,13.147),(2749,13.147),(2767,13.151),(2785,13.145),(2809,13.158),(2827,13.161),(2845,13.167),
    (2857,13.181),(2881,13.178),(2893,13.181),(2911,13.154),(2929,13.184),(2948,13.178),(2978,13.181),(2996,13.184),(3014,13.178),
    (3032,13.174),(3050,13.181),(3074,13.181),(3092,13.171),(3110,13.181),
    (3430,13.221),(3442,13.214),(3460,13.208),(3472,13.197),(3490,13.194),(3508,13.192),(3526,13.188),(3545,13.192),(3563,13.174),
    (3581,13.178),(3599,13.181),(3629,13.184),(3647,13.174),(3659,13.170),(3677,13.194),(3701,13.208),(3725,13.214),(3737,13.221),
    (3762,13.221),(3780,13.228),(3798,13.232),(3822,13.235),(3834,13.232),
    (4166,13.245),(4184,13.241),(4202,13.235),(4220,13.235),(4238,13.241),(4256,13.245),(4274,13.241),(4292,13.251),(4310,13.259),
    (4322,13.261),(4341,13.275),(4353,13.309),(4359,13.295),(4365,13.261),(4383,13.282),(4407,13.288),(4425,13.288),(4443,13.288),
    (4461,13.264),(4485,13.261),(4509,13.259),(4527,13.255),(4546,13.248),(4570,13.241),(4594,13.228),(4618,13.221),(4642,13.194),
    (4666,13.188),(4684,13.184),(4708,13.184),(4726,13.181),(4745,13.143),(4763,13.188),(4781,13.174),(4799,13.192),(4823,13.194),
    (4841,13.188),(4865,13.184),(4883,13.201),(4907,13.205),(4925,13.201),(4950,13.194),(4974,13.194),
]
MAG_BLUE_CURVES = [
    [(1941,13.145),(1965,13.150),(1989,13.154),(2013,13.163),(2037,13.174),(2061,13.167),(2085,13.147),(2109,13.127),(2134,13.110),
     (2158,13.097),(2176,13.100),(2194,13.104)],
    [(2616,13.120),(2634,13.138),(2652,13.124)],
    [(2694,13.140),(2724,13.145),(2761,13.151),(2809,13.158),(2857,13.170),(2905,13.174),(2929,13.178),(2978,13.181),(3026,13.181),
     (3062,13.178),(3092,13.181),(3116,13.181)],
    [(3430,13.221),(3460,13.201),(3496,13.192),(3532,13.181),(3569,13.174),(3605,13.178),(3641,13.181),(3665,13.192),(3701,13.205),
     (3737,13.214),(3774,13.221),(3810,13.228),(3834,13.232)],
    [(4166,13.245),(4196,13.237),(4232,13.237),(4268,13.241),(4304,13.255),(4341,13.282),(4365,13.288),(4401,13.288),(4437,13.282),
     (4473,13.261),(4509,13.259),(4558,13.241),(4606,13.221),(4654,13.194),(4690,13.184),(4726,13.181),(4775,13.181),(4823,13.188),
     (4871,13.194),(4919,13.201),(4974,13.194)],
]

# ---------------- layout / style ----------------
FONT = "Liberation Sans"
FONT_SIZE = "20px"
W, H = 1052, 699
LABEL_STRIP_W = 55          # narrow strip on the left holding the vertical axis titles
B_LEFT, B_RIGHT, B_TOP, B_BOTTOM = 124, 29, 33, 65
FRAME_H = H - B_TOP - B_BOTTOM
PANEL_H = [188, 239, 174]

per_s = (PERIOD_LIMITS[1] - PERIOD_LIMITS[0]) / PANEL_H[0]
per_range = Range1d(PERIOD_LIMITS[1] - FRAME_H * per_s, PERIOD_LIMITS[1])
iqr_s = (IQR_LIMITS[1] - IQR_LIMITS[0]) / PANEL_H[1]
iqr_top = IQR_LIMITS[1] + PANEL_H[0] * iqr_s
iqr_range = Range1d(iqr_top - FRAME_H * iqr_s, iqr_top)
mag_s = (MAG_LIMITS[1] - MAG_LIMITS[0]) / PANEL_H[2]
mag_top = MAG_LIMITS[0] - (PANEL_H[0] + PANEL_H[1]) * mag_s
mag_range = Range1d(MAG_LIMITS[1], mag_top)


def iqr_to_primary(v):
    return PERIOD_LIMITS[1] - ((iqr_top - v) / iqr_s) * per_s


def mag_to_primary(v):
    return PERIOD_LIMITS[1] - ((v - mag_top) / mag_s) * per_s


all_ticks = list(PERIOD_TICKS) + [iqr_to_primary(v) for v in IQR_TICKS] + [mag_to_primary(v) for v in MAG_TICKS]
all_labels = list(PERIOD_TICK_LABELS) + list(IQR_TICK_LABELS) + list(MAG_TICK_LABELS)

p = figure(width=W - LABEL_STRIP_W, height=H, x_range=Range1d(*X_LIMITS), y_range=per_range,
           min_border_left=B_LEFT - LABEL_STRIP_W, min_border_right=B_RIGHT, min_border_top=B_TOP,
           min_border_bottom=B_BOTTOM, output_backend="svg", toolbar_location=None)
p.extra_y_ranges = {"iqr": iqr_range, "mag": mag_range}
p.xgrid.visible = False
p.ygrid.visible = False
p.background_fill_color = "white"
p.border_fill_color = "white"
p.outline_line_color = "black"
p.outline_line_width = 2
p.outline_line_alpha = 1.0

p.title.text = TITLE
p.title.align = "center"
p.title.text_font = FONT
p.title.text_font_size = FONT_SIZE
p.title.text_font_style = "normal"
p.title.text_color = "black"
p.title.standoff = 8
p.title.vertical_align = "top"

label_formatter = CustomJSTickFormatter(args=dict(tpos=all_ticks, tlab=all_labels), code="""
let best = 0; let bd = Infinity;
for (let i = 0; i < tpos.length; i++) { const d = Math.abs(tpos[i] - tick); if (d < bd) { bd = d; best = i; } }
return tlab[best];
""")
blank_formatter = CustomJSTickFormatter(code="return '';")


def style_axis(ax):
    ax.major_tick_in = 7
    ax.major_tick_out = 0
    ax.minor_tick_line_color = None
    ax.axis_line_color = None
    ax.major_tick_line_color = "black"
    ax.major_tick_line_width = 1
    ax.major_label_text_font = FONT
    ax.major_label_text_font_size = FONT_SIZE
    ax.major_label_text_color = "black"


yl = p.yaxis[0]
yl.ticker = FixedTicker(ticks=all_ticks)
yl.formatter = label_formatter
style_axis(yl)
yl.major_label_standoff = 10

xb = p.xaxis[0]
xb.ticker = FixedTicker(ticks=X_TICKS)
style_axis(xb)
xb.major_label_standoff = 9
xb.axis_label = X_LABEL
xb.axis_label_text_font = FONT
xb.axis_label_text_font_size = FONT_SIZE
xb.axis_label_text_font_style = "normal"
xb.axis_label_text_color = "black"
xb.axis_label_standoff = 7

yr = LinearAxis(ticker=FixedTicker(ticks=all_ticks), formatter=blank_formatter)
style_axis(yr)
yr.major_label_text_font_size = "0px"
yr.major_label_standoff = 0
p.add_layout(yr, "right")

xt = LinearAxis(ticker=FixedTicker(ticks=X_TICKS), formatter=blank_formatter)
style_axis(xt)
xt.major_label_text_font_size = "0px"
xt.major_label_standoff = 0
p.add_layout(xt, "above")

# panel separators and their inner x ticks
p.add_layout(Span(location=PERIOD_LIMITS[0], dimension="width", line_color="black", line_width=2))
p.add_layout(Span(location=IQR_LIMITS[0], dimension="width", line_color="black", line_width=2, y_range_name="iqr"))
p.scatter(x=X_TICKS, y=[PERIOD_LIMITS[0]] * len(X_TICKS), marker="dash", angle=math.pi / 2, size=15,
          line_color="black", line_width=1)
p.scatter(x=X_TICKS, y=[IQR_LIMITS[0]] * len(X_TICKS), marker="dash", angle=math.pi / 2, size=15,
          line_color="black", line_width=1, y_range_name="iqr")


def xs(pts):
    return [q[0] for q in pts]


def ys(pts):
    return [q[1] for q in pts]


def draw_panel(red_pts, red_curves, green_pts, green_curves, blue_pts, blue_curves, rng):
    kw = {} if rng is None else {"y_range_name": rng}
    p.scatter(xs(green_pts), ys(green_pts), marker="circle", size=8, fill_color="#b8b8b8", fill_alpha=0.55,
              line_color="#222222", line_width=1, **kw)
    p.scatter(xs(blue_pts), ys(blue_pts), marker="cross", size=8, line_color="#111111", line_width=1.2, **kw)
    p.scatter(xs(red_pts), ys(red_pts), marker="circle", size=6.5, fill_color="black", line_color="black", **kw)
    p.multi_line([xs(c) for c in green_curves], [ys(c) for c in green_curves], line_color="#00ee00", line_width=1.3, **kw)
    p.multi_line([xs(c) for c in blue_curves], [ys(c) for c in blue_curves], line_color="#0000ff", line_width=1.3, **kw)
    p.multi_line([xs(c) for c in red_curves], [ys(c) for c in red_curves], line_color="#ff0000", line_width=1.3, **kw)


draw_panel(PERIOD_RED_PTS, PERIOD_RED_CURVES, PERIOD_GREEN_PTS, PERIOD_GREEN_CURVES, PERIOD_BLUE_PTS, PERIOD_BLUE_CURVES, None)
draw_panel(IQR_RED_PTS, IQR_RED_CURVES, IQR_GREEN_PTS, IQR_GREEN_CURVES, IQR_BLUE_PTS, IQR_BLUE_CURVES, "iqr")
draw_panel(MAG_RED_PTS, MAG_RED_CURVES, MAG_GREEN_PTS, MAG_GREEN_CURVES, MAG_BLUE_PTS, MAG_BLUE_CURVES, "mag")

# left strip with the three vertical axis titles; its frame is aligned with the main frame
# (rows of plots share frame edges), so its y range spans the page rows of that frame.
AXIS_TITLES = [PERIOD_LABEL, IQR_LABEL, MAG_LABEL]
AXIS_TITLE_X = [42, 35, 18]
AXIS_TITLE_Y = [127, 338, 545]
strip = figure(width=LABEL_STRIP_W, height=H, x_range=Range1d(0, LABEL_STRIP_W), y_range=Range1d(B_BOTTOM, H - B_TOP),
               min_border=0, min_border_left=0, min_border_right=0, min_border_top=0, min_border_bottom=0,
               x_axis_type=None, y_axis_type=None, output_backend="svg", toolbar_location=None)
strip.outline_line_color = None
strip.background_fill_color = "white"
strip.border_fill_color = "white"
strip.text(x=AXIS_TITLE_X, y=[H - v for v in AXIS_TITLE_Y], text=AXIS_TITLES, angle=math.pi / 2,
           text_align="center", text_baseline="middle", text_font=value(FONT), text_font_size=value(FONT_SIZE),
           text_color="black")

layout = row(strip, p, spacing=0)
open("out.html", "w").write(file_html(layout, INLINE))
